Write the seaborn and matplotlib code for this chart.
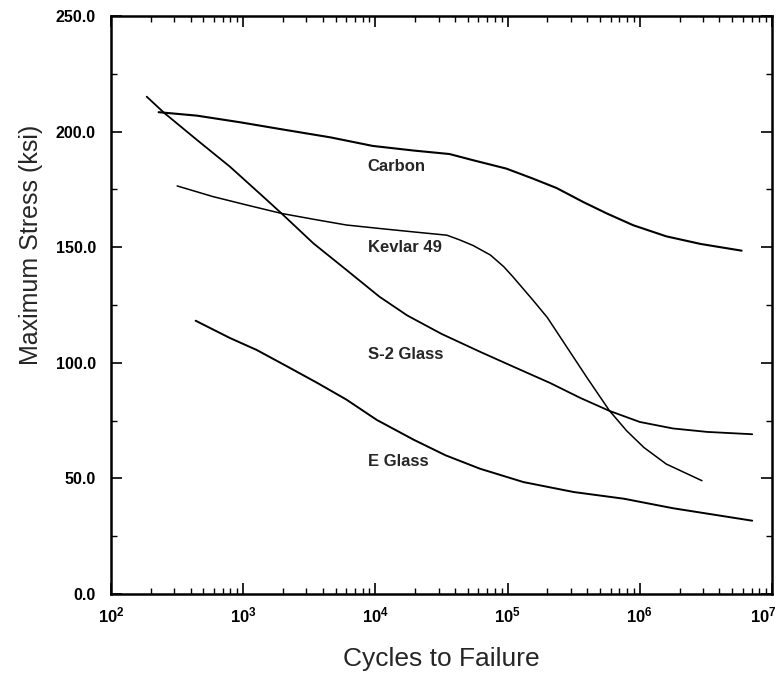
import numpy as np
import pandas as pd
import matplotlib
matplotlib.use("Agg")
import matplotlib.pyplot as plt
import matplotlib.ticker as mticker
import matplotlib.transforms as mtransforms
import seaborn as sns

sns.set_style("ticks")
plt.rcParams['font.family'] = ['Liberation Sans', 'DejaVu Sans']
plt.rcParams['mathtext.fontset'] = 'custom'
plt.rcParams['mathtext.rm'] = 'Liberation Sans'
plt.rcParams['mathtext.bf'] = 'Liberation Sans:bold'

# log10(cycles) and stress (ksi)
carbon_logn = [2.36, 2.65, 2.98, 3.28, 3.66, 3.98, 4.29, 4.56, 4.74, 4.99,
               5.19, 5.37, 5.57, 5.75, 5.95, 6.20, 6.46, 6.77]
carbon_ksi = [208.4, 206.9, 204.0, 201.1, 197.5, 193.8, 191.8, 190.3, 187.6, 184.0,
              179.7, 175.6, 169.6, 164.6, 159.5, 154.7, 151.4, 148.5]

kevlar_logn = [2.50, 2.77, 3.03, 3.29, 3.53, 3.78, 4.03, 4.29, 4.54, 4.64, 4.74, 4.87,
               4.97, 5.04, 5.19, 5.30, 5.45, 5.60, 5.77, 5.90, 6.03, 6.20, 6.47]
kevlar_ksi = [176.5, 171.9, 168.2, 164.6, 162.1, 159.6, 158.1, 156.6, 155.2, 153.1, 150.7, 146.6,
              141.6, 137.2, 127.2, 119.6, 106.6, 93.6, 79.3, 70.6, 63.4, 56.2, 49.0]

s2_logn = [2.27, 2.40, 2.65, 2.90, 3.15, 3.29, 3.53, 3.78, 4.03, 4.24, 4.50,
           4.79, 5.04, 5.32, 5.55, 5.77, 6.00, 6.25, 6.51, 6.85]
s2_ksi = [215.1, 208.2, 196.4, 184.8, 171.9, 164.6, 151.7, 140.2, 128.6, 120.5, 112.5,
          104.8, 98.4, 91.3, 84.8, 79.2, 74.4, 71.6, 70.1, 69.1]

eglass_logn = [2.64, 2.90, 3.10, 3.33, 3.56, 3.78, 4.01, 4.29, 4.53, 4.79,
               5.12, 5.50, 5.88, 6.25, 6.85]
eglass_ksi = [118.2, 110.7, 105.6, 98.5, 91.3, 84.1, 75.3, 66.7, 60.0, 54.2,
              48.4, 44.1, 41.2, 37.1, 31.7]

materials = ["Carbon", "Kevlar 49", "S-2 Glass", "E Glass"]
label_logn = [3.94, 3.94, 3.94, 3.94]
label_ksi = [184.7, 150.0, 103.4, 57.1]

series = [(carbon_logn, carbon_ksi, 1.5),
          (kevlar_logn, kevlar_ksi, 1.1),
          (s2_logn, s2_ksi, 1.3),
          (eglass_logn, eglass_ksi, 1.4)]

fig = plt.figure(figsize=(7.83, 6.84), dpi=100)
ax = fig.add_axes([0.1418, 0.1316, 0.8442, 0.8450])

for logn, ksi, lw in series:
    df = pd.DataFrame({"cycles": 10 ** np.array(logn), "stress": ksi})
    sns.lineplot(data=df, x="cycles", y="stress", color="black", lw=lw,
                 sort=False, estimator=None, ax=ax)

for name, ln, k in zip(materials, label_logn, label_ksi):
    ax.text(10 ** ln, k, name, fontsize=12, fontweight="bold", va="center", ha="left")

ax.set_xscale("log")
ax.set_xlim(1e2, 1e7)
ax.set_ylim(0, 250)
ax.yaxis.set_major_locator(mticker.MultipleLocator(50))
ax.yaxis.set_minor_locator(mticker.MultipleLocator(25))
ax.yaxis.set_major_formatter(mticker.FormatStrFormatter("%.1f"))
ax.xaxis.set_major_locator(mticker.FixedLocator([1e2, 1e3, 1e4, 1e5, 1e6, 1e7]))
ax.xaxis.set_minor_locator(mticker.LogLocator(base=10, subs=np.arange(2, 10), numticks=20))
ax.xaxis.set_major_formatter(mticker.FuncFormatter(
    lambda v, p: r"$\mathbf{10^{%d}}$" % round(np.log10(v))))

ax.tick_params(which="both", direction="in", top=True, right=True, colors="black")
ax.tick_params(which="major", length=8, width=1.2)
ax.tick_params(which="minor", length=4, width=1.0)
ax.tick_params(axis="y", which="major", pad=11, labelsize=11.5)
ax.tick_params(axis="x", which="major", pad=8, labelsize=12)
for lab in ax.get_yticklabels():
    lab.set_fontweight("bold")

# keep the last decade label inside the picture
last = ax.get_xticklabels()[-1]
shift = mtransforms.ScaledTranslation(-6 / 72, 0, fig.dpi_scale_trans)
last.set_transform(last.get_transform() + shift)

for sp in ax.spines.values():
    sp.set_linewidth(1.8)
    sp.set_color("black")

ax.set_xlabel("Cycles to Failure", fontsize=19, labelpad=16)
ax.set_ylabel("Maximum Stress (ksi)", fontsize=18)
ax.yaxis.set_label_coords(-0.103, 0.604)

fig.savefig("out.png", dpi=100)
